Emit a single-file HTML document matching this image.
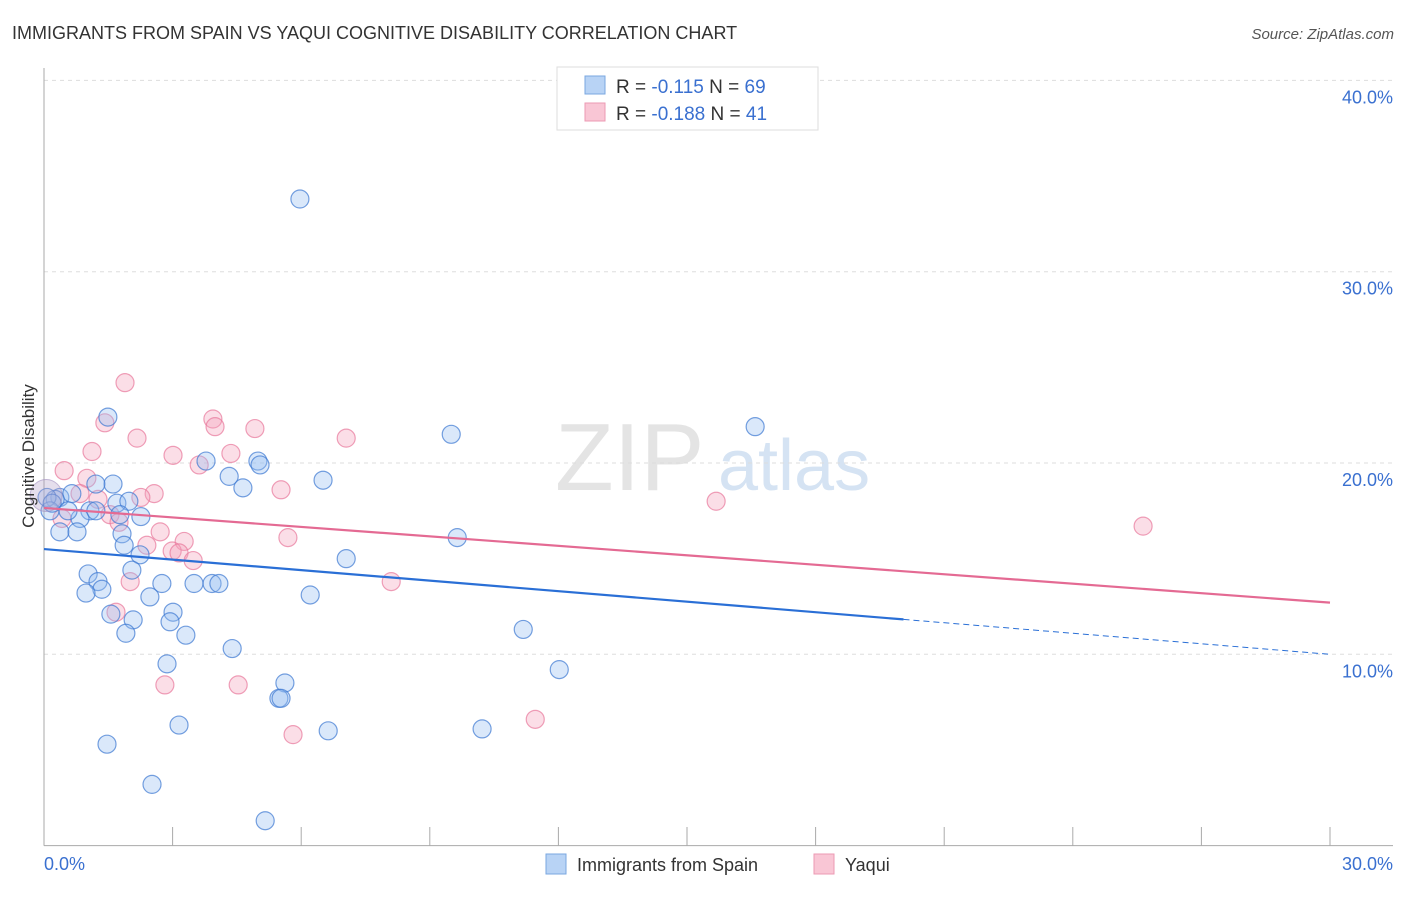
<!DOCTYPE html>
<html><head><meta charset="utf-8"><style>
body{margin:0;background:#fff;font-family:"Liberation Sans",sans-serif;}
svg text{font-family:"Liberation Sans",sans-serif;}
</style></head><body>
<svg width="1406" height="892" viewBox="0 0 1406 892" xmlns="http://www.w3.org/2000/svg">
<text x="12" y="39" font-size="18" fill="#333">IMMIGRANTS FROM SPAIN VS YAQUI COGNITIVE DISABILITY CORRELATION CHART</text>
<text x="1394" y="39" font-size="15" fill="#555" text-anchor="end" font-style="italic">Source: ZipAtlas.com</text>
<text x="555" y="490" font-size="96" fill="#e4e4e4" font-family="Liberation Serif">ZIP</text>
<text x="718" y="490" font-size="72" fill="#d5e3f3">atlas</text>
<g id="grid"></g>
<g id="axes"></g>
<g id="marks"></g>
<text transform="translate(34,456) rotate(-90)" font-size="17" fill="#333" text-anchor="middle">Cognitive Disability</text>
<g>
<rect x="557" y="67" width="261" height="63" fill="#fff" stroke="#ddd"/>
<rect x="585" y="76" width="20" height="18" fill="#b8d3f5" stroke="#7aa7e0"/>
<rect x="585" y="103" width="20" height="18" fill="#f9c6d5" stroke="#ec9ab3"/>
<text x="616" y="93" font-size="19" fill="#333">R = <tspan fill="#3a70d0">-0.115</tspan>   N = <tspan fill="#3a70d0">69</tspan></text>
<text x="616" y="120" font-size="19" fill="#333">R = <tspan fill="#3a70d0">-0.188</tspan>   N = <tspan fill="#3a70d0">41</tspan></text>
</g>
<g>
<rect x="546" y="854" width="20" height="20" fill="#b8d3f5" stroke="#7aa7e0"/>
<text x="577" y="871" font-size="18" fill="#333">Immigrants from Spain</text>
<rect x="814" y="854" width="20" height="20" fill="#f9c6d5" stroke="#ec9ab3"/>
<text x="845" y="871" font-size="18" fill="#333">Yaqui</text>
</g>
</svg>
<script>
const blueX=[5.97,1.49,9.50,16.59,3.78,4.99,5.04,4.32,6.51,4.64,1.61,1.21,0.37,0.65,0.26,0.07,0.14,0.19,1.07,1.70,1.98,0.84,1.21,1.77,2.26,0.37,0.77,0.56,1.82,1.87,9.64,2.24,7.05,2.05,1.03,1.26,2.75,3.50,3.92,4.08,1.35,0.98,2.47,6.21,3.01,1.56,2.94,2.08,1.91,3.31,11.18,4.39,2.87,12.02,5.62,5.48,5.53,3.15,6.63,10.22,1.47,2.52,5.16];
const blueY=[33.8,22.4,21.5,21.9,20.1,20.1,19.9,19.3,19.1,18.7,18.9,18.9,18.2,18.4,18.1,18.2,17.5,17.9,17.5,17.9,18.0,17.1,17.5,17.3,17.2,16.4,16.4,17.5,16.3,15.7,16.1,15.2,15.0,14.4,14.2,13.8,13.7,13.7,13.7,13.7,13.4,13.2,13.0,13.1,12.2,12.1,11.7,11.8,11.1,11.0,11.3,10.3,9.5,9.2,8.5,7.7,7.7,6.3,6.0,6.1,5.3,3.2,1.3];
const pinkX=[1.89,3.94,3.99,1.42,4.92,2.17,7.05,1.12,3.01,4.36,3.62,0.47,1.00,5.53,2.57,2.26,1.26,0.84,15.68,1.54,1.75,0.42,25.64,2.71,5.69,3.27,2.40,2.99,3.15,3.48,8.10,2.01,1.68,2.82,4.53,5.81,11.46];
const pinkY=[24.2,22.3,21.9,22.1,21.8,21.3,21.3,20.6,20.4,20.5,19.9,19.6,19.2,18.6,18.4,18.2,18.1,18.4,18.0,17.3,16.9,17.1,16.7,16.4,16.1,15.9,15.7,15.4,15.3,14.9,13.8,13.8,12.2,8.4,8.4,5.8,6.6];
const blueTrend=[15.5,10.0]; // at x=0 and x=30
const pinkTrend=[17.65,12.7];
const blueSolidEnd=20.05;
const yTicks=[10,20,30,40];
const yTickLabels=["10.0%","20.0%","30.0%","40.0%"];
const xTicks=[0,3,6,9,12,15,18,21,24,27,30];
const NS="http://www.w3.org/2000/svg";
const X0=44,X1=1330,Y0=845.6,PY=19.13;
function xs(v){return X0+(X1-X0)*v/30;}
function ys(v){return Y0-v*PY;}
function mk(tag,attrs,parent){const e=document.createElementNS(NS,tag);for(const k in attrs)e.setAttribute(k,attrs[k]);parent.appendChild(e);return e;}
const grid=document.getElementById('grid'),axes=document.getElementById('axes'),marks=document.getElementById('marks');
yTicks.forEach((t,i)=>{
 const l=mk('line',{x1:X0,x2:1393,y1:ys(t),y2:ys(t),stroke:'#ddd','stroke-dasharray':'4,4'},grid);
 
 
 const tx=mk('text',{x:1393,y:ys(t)+23,'font-size':18,fill:'#3a70d0','text-anchor':'end'},axes);
 tx.textContent=yTickLabels[i];
 
 
});
const ya=mk('line',{x1:X0,x2:X0,y1:68,y2:Y0,stroke:'#aaa'},axes);


const xa=mk('line',{x1:X0,x2:1393,y1:Y0,y2:Y0,stroke:'#aaa'},axes);


xTicks.forEach(t=>{
 const l=mk('line',{x1:xs(t),x2:xs(t),y1:827,y2:Y0,stroke:'#aaa'},axes);
 
 
});
const xl0=mk('text',{x:44,y:870,'font-size':18,fill:'#3a70d0'},axes);xl0.textContent='0.0%';


const xl1=mk('text',{x:1393,y:870,'font-size':18,fill:'#3a70d0','text-anchor':'end'},axes);xl1.textContent='30.0%';


pinkX.forEach((v,i)=>{
 const c=mk('circle',{cx:xs(v),cy:ys(pinkY[i]),r:9,fill:'rgba(244,160,185,0.35)',stroke:'rgba(232,120,155,0.7)','stroke-width':1.2},marks);
 
 
});
blueX.forEach((v,i)=>{
 const c=mk('circle',{cx:xs(v),cy:ys(blueY[i]),r:9,fill:'rgba(150,190,240,0.35)',stroke:'rgba(60,120,210,0.7)','stroke-width':1.2},marks);
 
 
});
const big=mk('circle',{cx:xs(0.05),cy:ys(18.3),r:16,fill:'rgba(180,160,200,0.35)',stroke:'rgba(160,140,190,0.6)'},marks);


function bt(x){return blueTrend[0]+(blueTrend[1]-blueTrend[0])*x/30;}
const bl=mk('line',{x1:xs(0),y1:ys(bt(0)),x2:xs(blueSolidEnd),y2:ys(bt(blueSolidEnd)),stroke:'#2a6fd6','stroke-width':2.2},marks);


const bd=mk('line',{x1:xs(blueSolidEnd),y1:ys(bt(blueSolidEnd)),x2:xs(30),y2:ys(bt(30)),stroke:'#2a6fd6','stroke-width':1,'stroke-dasharray':'6,4'},marks);


const pl=mk('line',{x1:xs(0),y1:ys(pinkTrend[0]),x2:xs(30),y2:ys(pinkTrend[1]),stroke:'#e46a93','stroke-width':2.2},marks);


</script>
</body></html>
